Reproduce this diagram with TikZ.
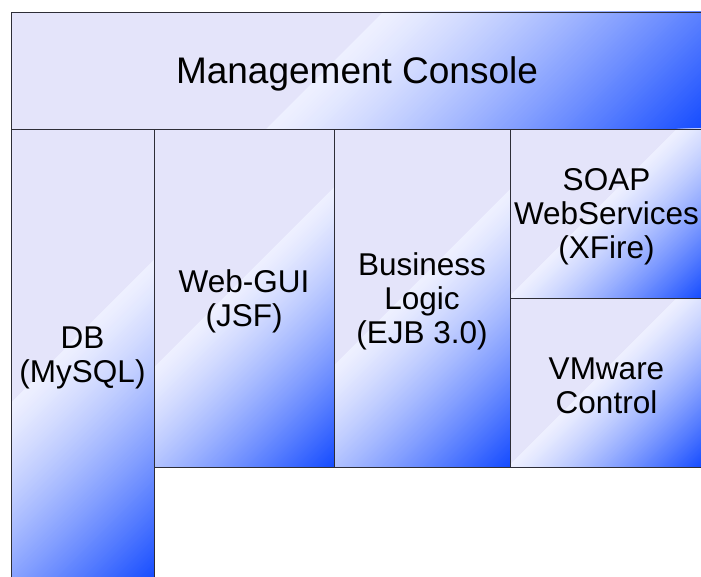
\documentclass[tikz,border=0pt]{standalone}
\usepackage{fontspec}
\setmainfont{Liberation Sans}
\definecolor{lavc}{RGB}{228,228,250}
\definecolor{hlc}{RGB}{238,240,255}
\definecolor{bluec}{RGB}{22,76,255}
\definecolor{bordc}{RGB}{45,45,55}
\tikzset{
  boxframe/.style={draw=bordc, line width=0.9pt, inner sep=0pt},
  boxtext/.style={inner sep=0pt, align=center, text=black, yshift=-3pt},
  smalltxt/.style={font=\fontsize{31.5}{34}\selectfont},
  bigtxt/.style={font=\fontsize{37}{42}\selectfont}
}
% #1 name, #2 x0, #3 y0, #4 x1, #5 y1, #6 style, #7 text
\newcommand\gradbox[7]{%
  \pgfmathsetmacro\gbT{(#4-#2)+(#5-#3)}%
  \pgfmathsetmacro\gbA{#2+#3}%
  \pgfmathsetmacro\gbE{#4+#5+10}%
  \pgfmathsetmacro\gbcx{(#2+#4)/2}%
  \pgfmathsetmacro\gbcy{(#3+#5)/2}%
  \pgfmathsetmacro\gbW{#4-#2}%
  \pgfmathsetmacro\gbH{#5-#3}%
  \fill[lavc] (#2,#3) rectangle (#4,#5);
  \begin{scope}
    \clip (#2,#3) rectangle (#4,#5);
    \foreach \k in {0,...,119}{%
      \pgfmathsetmacro\gbC{\gbA+\gbT*(0.46+0.54*\k/120)}%
      \pgfmathsetmacro\gbP{100*(\k/119)^1.25}%
      \colorlet{bandc}{bluec!\gbP!hlc}%
      \fill[bandc] (\gbC-#3,#3) -- (\gbC-#5,#5) -- (\gbE-#5,#5) -- (\gbE-#3,#3) -- cycle;
    }
  \end{scope}
  \node[boxframe, minimum width=\gbW pt, minimum height=\gbH pt] (#1) at (\gbcx,\gbcy) {};
  \node[boxtext, #6] (#1-text) at (#1.center) {#7};
}
\begin{document}
\begin{tikzpicture}[x=1pt,y=-1pt]
\useasboundingbox[fill=white] (0,0) rectangle (701,577);
\gradbox{console}{11}{12}{703}{129}{bigtxt}{Management Console}
\gradbox{db}{11}{129}{154}{581}{smalltxt}{DB\\(MySQL)}
\gradbox{webgui}{154}{129}{334}{467}{smalltxt}{Web-GUI\\(JSF)}
\gradbox{blogic}{334}{129}{510}{467}{smalltxt}{Business\\Logic\\(EJB 3.0)}
\gradbox{soap}{510}{129}{703}{298}{smalltxt}{SOAP\\WebServices\\(XFire)}
\gradbox{vmware}{510}{298}{703}{467}{smalltxt}{VMware\\Control}
\end{tikzpicture}
\end{document}
